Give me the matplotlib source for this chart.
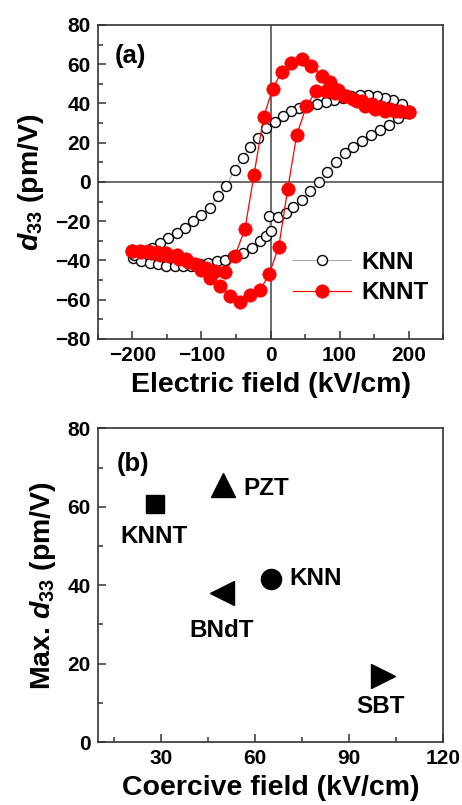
#!/usr/bin/env python3
"""
d33-E loops of KNN / KNNT films (a) and max d33 vs coercive field (b).
"""

import matplotlib
matplotlib.use("Agg")
import matplotlib.pyplot as plt
from matplotlib.ticker import MultipleLocator

plt.rcParams['font.family'] = ['Liberation Sans', 'DejaVu Sans']
plt.rcParams['font.weight'] = 'bold'
plt.rcParams['mathtext.fontset'] = 'custom'
plt.rcParams['mathtext.it'] = 'Liberation Sans:italic:bold'
plt.rcParams['mathtext.rm'] = 'Liberation Sans'

# ---- (a) KNN loop: lower branch (field going up), then upper branch (field going down)
knn_e_up = [-199, -187, -175, -163, -151, -139, -127, -115, -102, -90, -78, -66, -54,
            -40, -27, -15, -6, 0, -2, 11, 23, 33, 45, 57, 70, 82, 95, 108, 120, 133,
            146, 159, 171, 184, 196]
knn_d_up = [-38.7, -40.4, -41.3, -42, -42.6, -43, -43, -42.6, -42, -41.3, -40.4, -39.6,
            -37.9, -36, -33.6, -30.3, -27.5, -25, -17.5, -17.8, -15.8, -13, -9, -4.8, 0,
            5, 10, 14.8, 17.8, 21, 24, 26.6, 29, 32.5, 35]
knn_e_down = [200, 190, 178, 166, 154, 141, 129, 117, 105, 92, 80, 67, 55, 42, 30, 18,
              6, -6, -18, -30, -40, -52, -64, -76, -88, -100, -112, -124, -136, -148,
              -160, -172, -185, -198]
knn_d_down = [36, 39.5, 41.5, 43, 43.7, 44.5, 44.5, 44, 43, 42, 40.5, 39.5, 38.5, 37.7,
              36, 33.5, 30.5, 27.5, 22.4, 18, 12.2, 6.3, -2.2, -7.3, -13.2, -16.7, -20,
              -23.4, -26, -28.5, -31, -33.6, -35.3, -37]

# ---- (a) KNNT loop
knnt_e_up = [-200, -187, -173, -160, -147, -133, -120, -107, -93, -80, -66, -52, -37,
             -24, -10, 3, 16, 30, 45, 59, 74, 86, 98, 110, 125, 137, 151, 166, 180, 200]
knnt_d_up = [-35, -35.5, -36, -37, -38, -39.5, -41, -42.5, -44, -45.5, -46, -38, -24,
             3.5, 33, 47.5, 56, 60.5, 62.5, 59, 54, 50.7, 47, 43.6, 41, 38.5, 37, 36.3,
             36, 35.5]
knnt_e_down = [200, 187, 173, 160, 147, 133, 120, 107, 93, 80, 66, 52, 38, 25, 12, -2,
               -15, -29, -44, -59, -73, -88, -100, -110, -122, -136, -151, -165, -177,
               -189, -200]
knnt_d_down = [35.5, 36, 37, 38, 39.5, 41, 42.5, 44, 45.5, 46.5, 46.5, 38.5, 24, -3.5,
               -33, -47, -55, -57.5, -61, -58, -53, -49, -45, -42, -39.5, -37, -36,
               -35.5, -35, -35, -35]

# ---- (b) max d33 vs coercive field
materials = ['KNNT', 'PZT', 'KNN', 'BNdT', 'SBT']
coercive = [28.2, 50, 65.2, 49.5, 101]
max_d33 = [60.6, 65.5, 41.7, 37.9, 16.8]
mat_markers = ['s', '^', 'o', '<', '>']
mat_sizes = [12.5, 17, 14.5, 17, 17]
# label anchor (x, y, ha)
label_pos = [(27.9, 52.3, 'center'), (56.2, 64.6, 'left'), (71, 41.7, 'left'),
             (49.5, 28.5, 'center'), (100, 9.2, 'center')]

TICK_FS = 15
LABEL_FS = 20.5


def style_axes(ax):
    for sp in ax.spines.values():
        sp.set_linewidth(1.2)
        sp.set_color('#333333')
    ax.tick_params(which='both', direction='in', top=False, right=False,
                   labelsize=TICK_FS, color='#333333', width=1.1)
    ax.tick_params(which='major', length=6, pad=5)
    ax.tick_params(which='minor', length=3.5)
    for t in ax.get_xticklabels() + ax.get_yticklabels():
        t.set_fontweight('bold')


fig = plt.figure(figsize=(4.62, 8.05), dpi=100)

# ---------------- panel (a)
ax1 = fig.add_axes([0.212, 0.579, 0.747, 0.390])
ax1.axhline(0, color='#444444', lw=1.1, zorder=1)
ax1.axvline(0, color='#444444', lw=1.1, zorder=1)
ax1.plot(knn_e_up + knn_e_down, knn_d_up + knn_d_down, '-', color='#aaaaaa', lw=0.8,
         marker='o', ms=7.2, mfc='white', mec='black', mew=1.0, label='KNN', zorder=2)
ax1.plot(knnt_e_up + knnt_e_down, knnt_d_up + knnt_d_down, '-', color='red', lw=0.9,
         marker='o', ms=9.6, mfc='red', mec='red', mew=0.5, label='KNNT', zorder=3)
ax1.set_xlim(-250, 250)
ax1.set_ylim(-80, 80)
ax1.xaxis.set_major_locator(MultipleLocator(100))
ax1.xaxis.set_minor_locator(MultipleLocator(50))
ax1.yaxis.set_major_locator(MultipleLocator(20))
ax1.yaxis.set_minor_locator(MultipleLocator(10))
style_axes(ax1)
ax1.set_xlabel('Electric field (kV/cm)', fontsize=LABEL_FS, fontweight='bold', labelpad=5)
ax1.set_ylabel(r'$d_{33}$ (pm/V)', fontsize=LABEL_FS, fontweight='bold', labelpad=7)
ax1.text(-226, 64, '(a)', fontsize=18.5, fontweight='bold', va='center', ha='left')
ax1.legend(loc='center left', bbox_to_anchor=(0.565, 0.196), frameon=False,
           handlelength=2.4, handletextpad=0.4, labelspacing=0.3,
           borderpad=0, borderaxespad=0, prop={'weight': 'bold', 'size': 17.5})

# ---------------- panel (b)
ax2 = fig.add_axes([0.212, 0.078, 0.747, 0.390])
for i, name in enumerate(materials):
    ax2.plot(coercive[i], max_d33[i], linestyle='none', marker=mat_markers[i],
             ms=mat_sizes[i], color='black')
    lx, ly, ha = label_pos[i]
    ax2.text(lx, ly, name, fontsize=17.5, fontweight='bold', ha=ha, va='center')
ax2.set_xlim(10, 120)
ax2.set_ylim(0, 80)
ax2.set_xticks([30, 60, 90, 120])
ax2.xaxis.set_minor_locator(MultipleLocator(15))
ax2.yaxis.set_major_locator(MultipleLocator(20))
ax2.yaxis.set_minor_locator(MultipleLocator(10))
style_axes(ax2)
ax2.set_xlabel('Coercive field (kV/cm)', fontsize=LABEL_FS, fontweight='bold', labelpad=5)
ax2.set_ylabel(r'Max. $d_{33}$ (pm/V)', fontsize=LABEL_FS, fontweight='bold', labelpad=7)
ax2.text(16, 71, '(b)', fontsize=18.5, fontweight='bold', va='center', ha='left')

fig.savefig('out.png', dpi=100, facecolor='white')
print("saved out.png")
